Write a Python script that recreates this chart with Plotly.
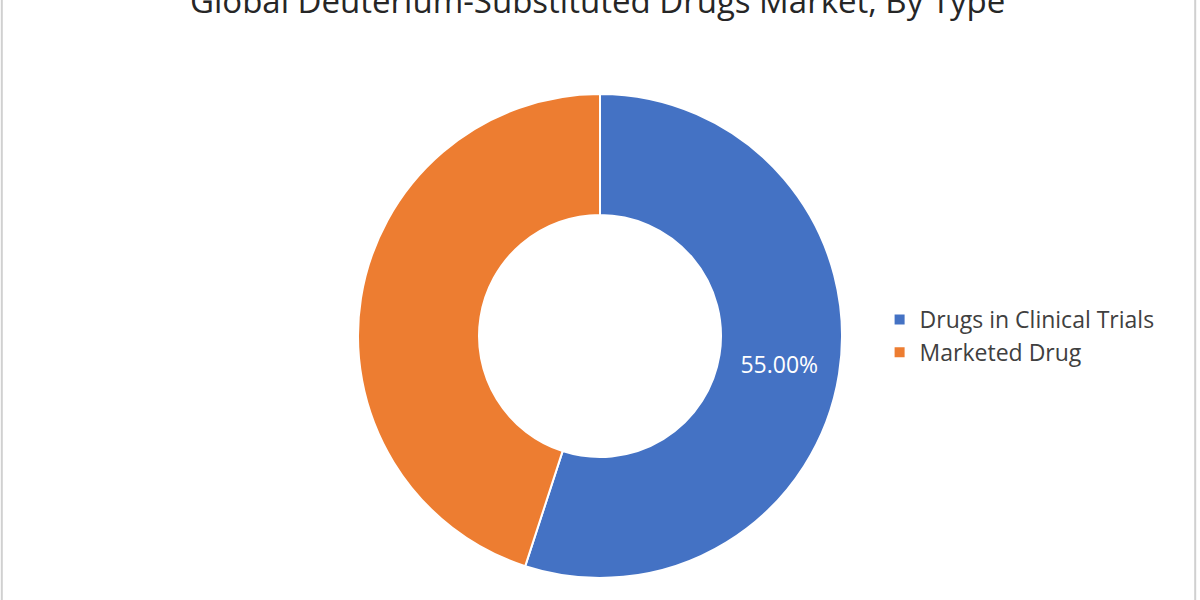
import plotly.graph_objects as go

labels = ["Drugs in Clinical Trials", "Marketed Drug"]
values = [55, 45]
colors = ["#4472C4", "#ED7D31"]
label_templates = ["%{percent:.2%}", ""]

fig = go.Figure(
    data=[
        go.Pie(
            labels=labels,
            values=values,
            hole=0.5,
            sort=False,
            direction="clockwise",
            rotation=0,
            marker=dict(colors=colors, line=dict(color="white", width=2)),
            texttemplate=label_templates,
            textposition="inside",
            insidetextorientation="horizontal",
            textfont=dict(color="white", size=23, family="Open Sans"),
            domain=dict(x=[358 / 1200, 842 / 1200], y=[1 - 578 / 600, 1 - 94 / 600]),
            hoverinfo="label+percent",
        )
    ]
)

fig.add_annotation(
    text="Global Deuterium-Substituted Drugs Market, By Type",
    x=0.498, y=1.0, xref="paper", yref="paper",
    xanchor="center", yanchor="middle",
    showarrow=False,
    font=dict(size=33, color="#262626", family="Open Sans"),
)

# light frame round the chart
fig.add_shape(
    type="rect", xref="paper", yref="paper",
    x0=0.0015, x1=0.996, y0=-0.05, y1=1.05,
    line=dict(color="#d0d0d0", width=2),
)

fig.update_layout(
    width=1200, height=600,
    margin=dict(l=0, r=0, t=0, b=0),
    paper_bgcolor="white",
    plot_bgcolor="white",
    showlegend=True,
    legend=dict(
        x=0.733, y=0.44, xanchor="left", yanchor="middle",
        font=dict(size=23, color="#404040", family="Open Sans"),
        itemclick=False,
    ),
)

fig.write_html(
    "out.html",
    config={"displayModeBar": False},
    post_script="document.body.style.margin='0';",
)
